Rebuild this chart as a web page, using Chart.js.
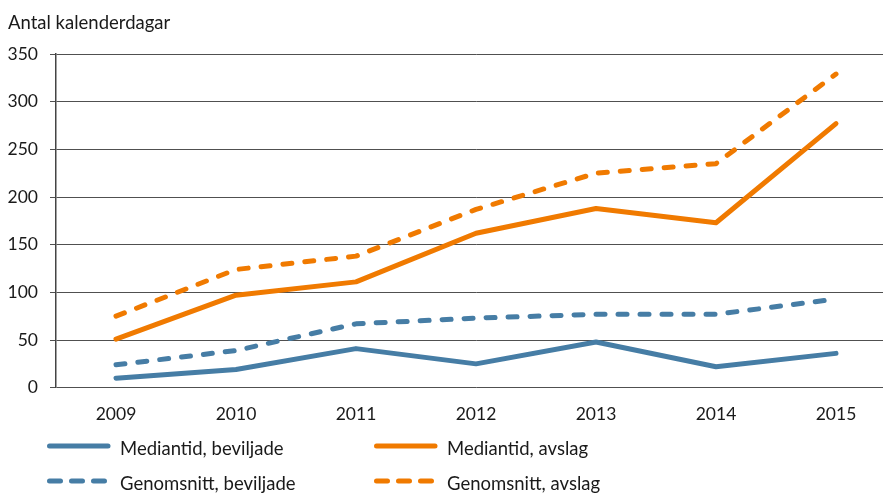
<!DOCTYPE html>
<html>
<head>
<meta charset="utf-8">
<script src="https://cdn.jsdelivr.net/npm/chart.js@4"></script>
<style>
  html, body { margin: 0; padding: 0; background: #fff; overflow: hidden; width: 883px; height: 493px; }
  #wrap { position: relative; width: 883px; height: 493px; overflow: hidden; }
  #chartBox { position: absolute; left: 0; top: 0; width: 900px; height: 430px; }
  #overlay { position: absolute; left: 0; top: 0; width: 883px; height: 493px; pointer-events: none; }
  #overlay text { font-family: Lato, "Open Sans", sans-serif; fill: #1a1a1a; }
</style>
</head>
<body>
<div id="wrap">
  <div id="chartBox"><canvas id="c" width="900" height="430"></canvas></div>
  <svg id="overlay" width="883" height="493" xmlns="http://www.w3.org/2000/svg"></svg>
</div>
<script>
// ---- data ----
const yAxisTitle = 'Antal kalenderdagar';
const years = ['2009', '2010', '2011', '2012', '2013', '2014', '2015'];
const yTicks = [0, 50, 100, 150, 200, 250, 300, 350];
const seriesNames = ['Mediantid, beviljade', 'Mediantid, avslag', 'Genomsnitt, beviljade', 'Genomsnitt, avslag'];
const medianBeviljade = [10, 19, 41, 25, 48, 22, 36];
const medianAvslag = [51, 97, 111, 162, 188, 173, 277];
const snittBeviljade = [24, 39, 67, 73, 77, 77, 93];
const snittAvslag = [75, 124, 138, 187, 225, 235, 329];

// ---- styles ----
const BLUE = '#467DA5';
const ORANGE = '#F07A00';
const FONT = 'Lato, "Open Sans", sans-serif';
const DASH = [9, 13];

function ds(label, data, color, dashed) {
  return {
    label, data,
    borderColor: color, backgroundColor: color,
    borderWidth: 5, borderDash: dashed ? DASH : [],
    borderCapStyle: 'round', borderJoinStyle: 'round',
    pointRadius: 0, pointHoverRadius: 0, tension: 0, fill: false
  };
}

const datasets = [
  ds(seriesNames[0], medianBeviljade, BLUE, false),
  ds(seriesNames[1], medianAvslag, ORANGE, false),
  ds(seriesNames[2], snittBeviljade, BLUE, true),
  ds(seriesNames[3], snittAvslag, ORANGE, true)
];

new Chart(document.getElementById('c'), {
  type: 'line',
  data: { labels: years, datasets },
  options: {
    responsive: false,
    animation: false,
    devicePixelRatio: 1,
    layout: { padding: { top: 54, right: 4, bottom: 0, left: 0 } },
    plugins: { legend: { display: false }, tooltip: { enabled: false }, title: { display: false } },
    scales: {
      x: {
        offset: true,
        grid: { display: false, drawTicks: false },
        border: { display: false },
        ticks: { color: '#1a1a1a', font: { family: FONT, size: 17.5 }, padding: 16, maxRotation: 0 },
        afterFit(scale) { scale.height = 42.3; }
      },
      y: {
        min: 0, max: 350,
        afterBuildTicks(scale) { scale.ticks = yTicks.map(v => ({ value: v })); },
        grid: { color: '#505050', lineWidth: 1, tickLength: 6, drawTicks: true },
        border: { display: true, color: '#444', width: 1.5 },
        ticks: { color: '#1a1a1a', font: { family: FONT, size: 17.5 }, padding: 12 },
        afterFit(scale) { scale.width = 56; }
      }
    }
  }
});

// ---- title & legend (real SVG text) ----
const NS = 'http://www.w3.org/2000/svg';
const svg = document.getElementById('overlay');
function el(name, attrs, text) {
  const e = document.createElementNS(NS, name);
  for (const k in attrs) e.setAttribute(k, attrs[k]);
  if (text) e.textContent = text;
  svg.appendChild(e);
  return e;
}
el('text', { x: 8, y: 29.3, 'font-size': 18.5 }, yAxisTitle);

const legendCols = [47, 374];
const legendRows = [446, 481];
const legendDash = ['', '11 11'];
const order = [[0, 0, 0], [1, 1, 0], [2, 0, 1], [3, 1, 1]]; // dataset, col, row
order.forEach(([i, col, row]) => {
  const d = datasets[i];
  const x0 = legendCols[col];
  const y = legendRows[row];
  const attrs = { x1: x0 + 2.5, y1: y, x2: x0 + 61, y2: y, stroke: d.borderColor, 'stroke-width': 5, 'stroke-linecap': 'round' };
  if (row === 1) attrs['stroke-dasharray'] = legendDash[1];
  el('line', attrs);
  el('text', { x: x0 + 73, y: y + 8.5, 'font-size': 18.5 }, d.label);
});
</script>
</body>
</html>
